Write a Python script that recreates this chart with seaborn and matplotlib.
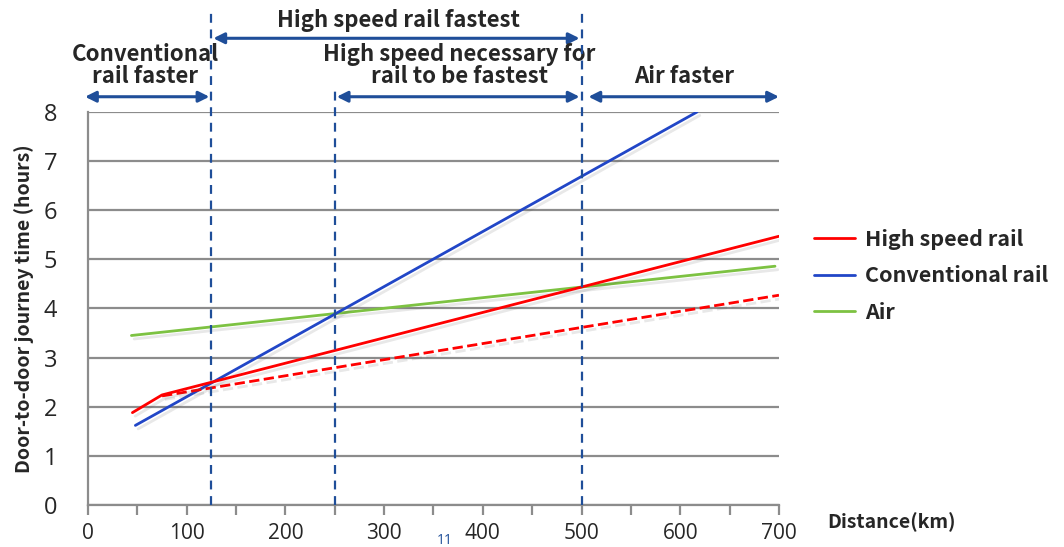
import matplotlib
matplotlib.use("Agg")
import matplotlib.pyplot as plt
import matplotlib.patheffects as pe
from matplotlib.lines import Line2D
import seaborn as sns
import pandas as pd

# Journey time (hours) against distance (km)
hsr_km = [45, 75, 700]
hsr_hours = [1.88, 2.24, 5.47]
hsr_slow_km = [75, 700]
hsr_slow_hours = [2.22, 4.27]
conv_km = [48, 617]
conv_hours = [1.62, 8.0]
air_km = [44, 696]
air_hours = [3.45, 4.86]

series_names = ["High speed rail", "Conventional rail", "Air"]
series_colors = ["#FF0000", "#2146C7", "#7DC242"]

# Break-even distances and region labels
breaks_km = [125, 250, 500]
region_text = ["Conventional\nrail faster", "High speed rail fastest",
               "High speed necessary for\nrail to be fastest", "Air faster"]

sns.set_theme(style="white")
plt.rcParams["font.family"] = ["Noto Sans CJK KR", "DejaVu Sans"]
bold_font = ["Noto Sans CJK KR", "DejaVu Sans"]
plain_font = ["Open Sans", "DejaVu Sans"]

fig = plt.figure(figsize=(10.64, 5.47), dpi=100)
ax = fig.add_axes([0.0827, 0.0768, 0.6494, 0.7185])

shadow = [pe.SimpleLineShadow(offset=(2, -2.5), alpha=0.12, shadow_color="#444444"),
          pe.Normal()]

df_h = pd.DataFrame({"km": hsr_km, "h": hsr_hours})
df_hs = pd.DataFrame({"km": hsr_slow_km, "h": hsr_slow_hours})
df_c = pd.DataFrame({"km": conv_km, "h": conv_hours})
df_a = pd.DataFrame({"km": air_km, "h": air_hours})

for d, col, ls in [(df_a, series_colors[2], "-"), (df_c, series_colors[1], "-"),
                   (df_hs, series_colors[0], "--"), (df_h, series_colors[0], "-")]:
    sns.lineplot(data=d, x="km", y="h", ax=ax, color=col, linestyle=ls,
                 linewidth=2, sort=False, estimator=None, legend=False,
                 path_effects=shadow, zorder=3)

ax.set_xlim(0, 700)
ax.set_ylim(0, 8)
ax.set_xticks(range(0, 701, 50), minor=False)
ax.set_xticklabels([str(v) if v % 100 == 0 else "" for v in range(0, 701, 50)],
                   family=plain_font)
ax.set_yticks(range(0, 9))
ax.set_yticklabels([str(v) for v in range(0, 9)], family=plain_font)
ax.yaxis.grid(True, color="#8C8C8C", linewidth=1.6)
ax.xaxis.grid(False)
for s in ["top", "right"]:
    ax.spines[s].set_visible(False)
for s in ["left", "bottom"]:
    ax.spines[s].set_color("#8C8C8C")
    ax.spines[s].set_linewidth(1.6)
ax.tick_params(axis="x", bottom=True, length=7, width=1.6, color="#8C8C8C",
               labelsize=15, pad=6)
ax.tick_params(axis="y", left=False, labelsize=17, pad=16)
ax.set_xlabel("")
ax.set_ylabel("Door-to-door journey time (hours)", fontsize=14,
              fontweight="bold", family=bold_font, labelpad=7)

# Break-even markers
navy = "#1F4E99"
tops = [10.1, 8.55, 10.1]
for xk, top in zip(breaks_km, tops):
    ax.plot([xk, xk], [0, top], color=navy, linestyle=(0, (4, 3)), linewidth=1.6,
            clip_on=False, zorder=4)

def span_arrow(x0, x1, y):
    ax.annotate("", xy=(x1, y), xytext=(x0, y), annotation_clip=False,
                arrowprops=dict(arrowstyle="<|-|>", color=navy, lw=2.2,
                                mutation_scale=16, shrinkA=0, shrinkB=0))

span_arrow(-3, 123, 8.31)
span_arrow(127, 498, 9.5)
span_arrow(252, 498, 8.31)
span_arrow(507, 700, 8.31)

tkw = dict(ha="center", va="center", fontsize=16, fontweight="bold",
           family=bold_font, linespacing=0.95, clip_on=False)
ax.text(58, 8.95, region_text[0], **tkw)
ax.text(314, 9.87, region_text[1], **tkw)
ax.text(376, 8.95, region_text[2], **tkw)
ax.text(604, 8.72, region_text[3], **tkw)

handles = [Line2D([], [], color=c, lw=2) for c in series_colors]
leg = fig.legend(handles, series_names, loc="center left",
                 bbox_to_anchor=(0.747, 0.496), frameon=False,
                 prop=dict(size=15.5, weight="bold", family=bold_font),
                 handlelength=1.9, handletextpad=0.45, labelspacing=0.72)

fig.text(0.838, 0.045, "Distance(km)", ha="center", va="center",
         fontsize=14, fontweight="bold", family=bold_font)
fig.text(0.418, 0.012, "11", ha="center", va="center", fontsize=10,
         color="#1F4E99", family=plain_font)

fig.savefig("out.png", dpi=100)
